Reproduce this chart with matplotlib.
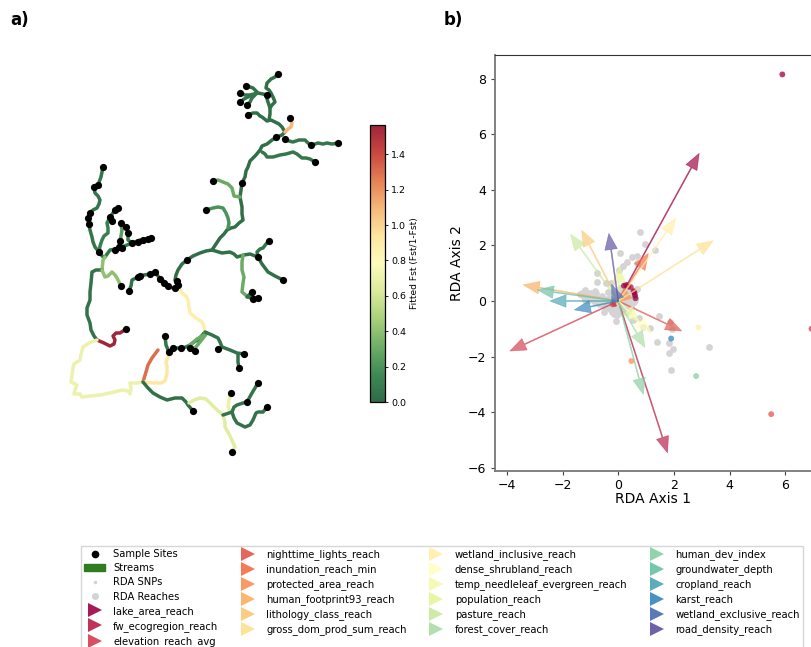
import matplotlib
matplotlib.use("Agg")
import matplotlib.pyplot as plt
from matplotlib.lines import Line2D
from matplotlib.patches import Patch
from matplotlib.cm import ScalarMappable
from matplotlib.colors import Normalize, LinearSegmentedColormap

W, H = 811, 647

# --- map: river reaches (fitted Fst, path in map units)
streams = [
 (0.03, [(278,74),(275,77),(271,79),(267,83),(266,88),(269,90),(271,93),(273,97),(275,102),(272,105),(270,108),(270,114),(269,120)]),
 (0.03, [(246,86),(250,87),(253,88),(256,91),(258,93),(263,94),(267,95),(267,99),(268,102),(270,108)]),
 (0.05, [(240,93),(245,95),(250,95),(258,93)]),
 (0.05, [(240,102),(244,99),(248,97),(255,94)]),
 (0.05, [(247,105),(250,102),(252,98),(256,94)]),
 (0.02, [(248,115),(253,113),(257,113),(260,116),(262,117),(267,121),(271,120),(275,122),(279,124),(282,127),(285,132),(282,135),(277,137),(272,140),(267,144),(262,146),(260,150),(256,155),(253,158),(250,161),(248,167),(246,171),(245,177),(242,183),(241,190),(240,197),(241,202),(242,207),(242,214),(243,220),(239,223),(235,227),(231,228),(227,230),(224,234),(220,238),(216,244),(212,250),(206,251),(200,253),(193,256),(187,260),(182,264),(178,270),(176,275),(175,280),(177,285)]),
 (1.1, [(290,118),(292,123),(291,127),(288,129),(285,132)]),
 (0.05, [(285,139),(289,141),(293,142),(299,140),(305,140),(308,143),(311,145),(315,144),(318,143),(323,144),(327,143),(332,144),(338,143)]),
 (0.06, [(262,152),(265,154),(267,157),(273,157),(280,155),(286,154),(293,152),(297,154),(302,158),(306,158),(310,159),(315,162)]),
 (0.3, [(213,181),(218,180),(223,182),(228,184),(232,188),(233,192),(234,196),(240,197)]),
 (0.2, [(206,210),(213,208),(218,207),(223,208),(226,213),(228,218),(229,223),(228,228)]),
 (0.03, [(212,250),(222,253),(230,252),(234,254),(237,257),(244,255),(250,254),(258,257),(262,264),(268,272),(275,276),(283,280)]),
 (0.05, [(258,257),(257,252),(260,249),(263,248),(266,244),(269,241)]),
 (0.3, [(243,255),(242,262),(242,270),(244,277),(243,283),(242,292),(248,297),(253,299)]),
 (0.05, [(252,292),(247,297),(258,298)]),
 (0.05, [(103,167),(101,177),(98,185),(94,187),(95,193),(98,196),(100,200),(99,204),(97,208),(93,210),(90,213),(88,218),(89,224),(90,230),(92,237),(93,242),(95,247),(99,252),(103,257)]),
 (0.1, [(118,208),(115,210),(110,217),(107,223),(108,228),(108,233),(104,236),(102,240),(100,246),(99,252)]),
 (0.25, [(121,223),(122,230),(120,242),(119,247)]),
 (0.06, [(105,257),(110,250),(116,249),(122,247),(132,243),(140,240),(146,239),(151,238)]),
 (0.1, [(126,227),(128,233),(128,240),(132,243)]),
 (0.4, [(105,257),(103,260),(102,270)]),
 (0.04, [(102,270),(96,270),(92,272),(91,283),(90,292),(90,300),(87,308),(87,315),(90,323),(91,330),(94,336),(97,340)]),
 (0.4, [(102,270),(105,277),(108,276),(112,272),(115,275),(117,278),(121,286)]),
 (0.03, [(129,291),(131,286),(132,280),(138,277),(144,275),(150,274),(155,272),(158,276),(160,279),(165,282),(168,286),(173,288),(178,285),(177,281)]),
 (1.56, [(97,340),(104,343),(110,346),(114,344),(115,340),(113,336),(116,333),(120,333),(123,331),(126,329)]),
 (0.7, [(97,340),(89,343),(83,347),(81,354),(80,360),(74,364),(73,368),(72,375),(71,382),(77,385),(75,390),(74,394),(80,394),(82,397),(90,396),(100,395),(110,393),(122,390),(128,391),(130,394),(131,389),(130,383),(137,383),(143,382)]),
 (1.3, [(143,382),(146,372),(148,365),(152,358),(155,354),(158,350)]),
 (0.92, [(143,382),(155,383),(161,383),(165,381),(167,373),(167,367),(166,362),(168,357),(169,352)]),
 (0.04, [(165,336),(166,345),(169,352),(173,348),(181,348),(186,347),(190,345),(194,342),(198,340),(205,332)]),
 (0.88, [(178,285),(180,290),(182,293),(186,296),(188,300),(189,307),(190,313),(196,318),(202,322),(204,326),(205,332)]),
 (0.3, [(195,348),(200,342),(207,333)]),
 (0.3, [(190,345),(197,339),(204,335)]),
 (0.04, [(205,332),(212,335),(218,338),(220,342),(222,347),(230,350),(237,353),(244,354)]),
 (0.04, [(238,354),(238,357),(238,362),(239,368)]),
 (0.03, [(143,382),(148,388),(153,393),(160,397),(167,400),(175,398),(182,398),(186,402),(188,405),(193,411)]),
 (0.65, [(189,403),(194,400),(200,398),(206,399),(210,403),(216,409),(223,415),(225,422),(225,427),(230,436),(235,447),(232,452)]),
 (0.7, [(231,393),(229,400),(228,407),(230,411)]),
 (0.05, [(223,415),(232,412),(234,407),(237,405),(243,403),(247,402),(252,393),(258,383)]),
 (0.04, [(232,412),(234,418),(237,423),(245,427),(250,425),(253,420),(256,413),(258,412),(263,412),(267,407)]),
]
site_x = [278,246,240,240,247,267,248,290,276,285,311,338,315,213,242,206,103,98,94,90,88,89,118,115,110,112,121,126,128,120,119,99,115,122,132,138,143,148,151,
          258,269,283,252,253,258,121,129,138,140,150,155,160,164,168,175,177,178,187,126,165,169,173,181,190,195,218,244,239,193,231,232,258,247,267]
site_y = [74,86,93,102,105,95,115,118,137,139,145,143,162,181,183,210,167,185,187,213,218,224,208,210,217,221,223,227,233,241,247,252,250,248,243,242,240,239,238,
          257,241,280,292,299,298,286,291,277,276,274,272,279,283,286,288,281,285,260,329,336,352,348,348,348,351,349,354,368,411,393,452,383,402,407]

# --- RDA panel
reach_x = [.78,.96,1.32,.06,.48,.68,.30,.18,-.76,-.76,.66,.04,-.44,-.28,-1.19,-.84,-1.32,-1.02,-.80,-1.38,-1.14,-.9,-.66,-.36,.66,
           1.47,1.86,1.94,1.38,1.83,1.98,1.82,3.27,1.88,.76,-.08,-.52,-.24,-.06,.3,.54,.9,1.14,
           .1,.2,.3,.4,.5,.45,.35,.2,.1,.3,.5,.1,.2,-.1,-.3,-.4,-.6,.35,.55,0,.15,-.2,
           .05,.15,.25,.35,.45,.55,.6,.05,.15,.25,.35,.45,.55,.25,.35,.45,.15,.25,.35,.05,
           -1.25,-1.1,-1.0,-.9,-.75,-.6,-.5,-.35,-1.2,-1.05,-.85,-.7,-.55,-.4,-.2,-.1,-.7,-.5,-.35,-.15,-.45,-.3,-.15]
reach_y = [2.49,2.05,1.83,1.74,1.57,1.62,1.41,1.27,1.0,.67,1.35,1.12,.64,.66,.40,.37,.28,.28,.28,.25,.10,.04,-.08,.31,.42,
           -.53,-.74,-1.02,-1.49,-1.5,-1.73,-1.87,-1.64,-2.48,-.6,-.72,-.38,-.38,-.5,-.38,-.68,-.92,-.98,
           .3,.4,.3,.2,.1,-.1,-.2,-.1,-.2,0,.3,.1,.2,-.3,-.2,-.1,.1,.45,-.05,-.35,-.3,-.15,
           -.05,.0,.1,.1,.0,.2,.05,.22,.32,.22,.22,.4,.35,-.25,-.05,-.2,-.4,-.4,-.35,.45,
           .15,.2,.15,.12,.1,.18,.08,.12,.05,.02,-.02,.02,-.05,.0,-.2,-.1,-.12,-.18,-.1,.05,-.25,-.3,-.45]

variables = ["lake_area_reach","fw_ecogregion_reach","elevation_reach_avg","nighttime_lights_reach",
             "inundation_reach_min","protected_area_reach","human_footprint93_reach","lithology_class_reach",
             "gross_dom_prod_sum_reach","wetland_inclusive_reach","dense_shrubland_reach",
             "temp_needleleaf_evergreen_reach","population_reach","pasture_reach","forest_cover_reach",
             "human_dev_index","groundwater_depth","cropland_reach","karst_reach","wetland_exclusive_reach","road_density_reach"]
arrow_x = [2.91,1.77,-3.9,2.28,1.08,-0.1,-3.42,-1.32,3.42,2.07,1.2,0.75,0.05,-1.72,0.96,0.9,-2.91,-2.46,-1.58,-0.24,-0.34]
arrow_y = [5.31,-5.46,-1.8,-1.08,1.71,-0.08,0.58,2.55,2.17,2.97,-1.17,-0.75,1.25,2.4,-1.67,-3.36,0.4,0.0,-0.32,0.6,2.43]
snp_var = [0,3,2,5,9,18,15, 0,0,0,0,0,0,0, 1,1,2,9,9]
snp_x = [5.9,5.5,6.95,.47,2.88,1.9,2.8, .2,.28,.36,.58,.6,.62,.55, -.12,.45,-.2,0.02,0.1]
snp_y = [8.15,-4.07,-1.0,-2.16,-.95,-1.35,-2.7, .55,.58,.52,.3,.2,.1,.35, -.1,.5,-.12,-.08,.03]

x_ticks = [-4,-2,0,2,4,6]
y_ticks = [-6,-4,-2,0,2,4,6,8]
cbar_ticks = [0,0.2,0.4,0.6,0.8,1.0,1.2,1.4]
FST_MAX = 1.565
fst_colors = ["#2f6b46","#3f8a55","#6fae66","#a9d07a","#dcea9c","#fdfbbd","#fde6a0","#f5b878","#e58155","#c9483f","#a0243a"]

fig = plt.figure(figsize=(W/100, H/100), dpi=100, facecolor="white")

def px_axes(l, t, r, b, **kw):
    return fig.add_axes([l/W, 1-b/H, (r-l)/W, (b-t)/H], **kw)

# a) map
cmap = LinearSegmentedColormap.from_list("fst", fst_colors)
norm = Normalize(0, FST_MAX)
m = px_axes(0, 0, W, H)
m.set_xlim(0, W); m.set_ylim(H, 0); m.axis("off"); m.patch.set_alpha(0)
for val, path in streams:
    xs, ys = zip(*path)
    m.plot(xs, ys, color=cmap(norm(val)), lw=2.5, solid_capstyle="round", solid_joinstyle="round", zorder=2)
m.scatter(site_x, site_y, s=27, color="black", zorder=3, linewidths=0)

# colorbar
cax = px_axes(370, 125, 385, 402)
cb = fig.colorbar(ScalarMappable(norm=norm, cmap=cmap), cax=cax)
cb.set_ticks(cbar_ticks)
cax.tick_params(labelsize=6.8, length=2.5, width=0.6, pad=2)
cb.set_label("Fitted Fst (Fst/1-Fst)", fontsize=6.6, labelpad=3)
cb.outline.set_linewidth(0.9)

# b) RDA
ax = px_axes(494.5, 55, W, 471)
ax.set_xlim((494.5-618.3)/27.8, (W-618.3)/27.8)
ax.set_ylim((301-471)/27.8, (301-55)/27.8)
spectral = plt.get_cmap("Spectral")
cols = [spectral(i/(len(variables)-1)) for i in range(len(variables))]
ax.scatter(reach_x, reach_y, s=24, color="#d4d4d4", linewidths=0, zorder=2)
ax.scatter(snp_x, snp_y, s=18, color=[cols[i] for i in snp_var], alpha=0.75, linewidths=0, zorder=3)
for name, dx, dy, c in zip(variables, arrow_x, arrow_y, cols):
    ax.arrow(0, 0, dx, dy, color=c, alpha=0.68, width=0.035, head_width=0.45, head_length=0.58,
             length_includes_head=True, linewidth=0.4, zorder=4)
ax.set_xticks(x_ticks); ax.set_yticks(y_ticks)
ax.tick_params(labelsize=9, length=3, width=0.8, color="#444444", pad=3)
ax.set_xlabel("RDA Axis 1", fontsize=10, labelpad=0)
ax.set_ylabel("RDA Axis 2", fontsize=10, labelpad=3)
ax.spines["right"].set_visible(False)
ax.spines["top"].set_linewidth(0.8); ax.spines["top"].set_color("#333333")
for s in ("left","bottom"):
    ax.spines[s].set_linewidth(1.3); ax.spines[s].set_color("#777777")

fig.text(10/W, 1-20/H, "a)", fontsize=12, fontweight="bold", va="center")
fig.text(444/W, 1-20/H, "b)", fontsize=12, fontweight="bold", va="center")

# legend
handles = [Line2D([],[],ls="",marker="o",color="black",ms=4.5,label="Sample Sites"),
           Patch(color="#2e7d1e",label="Streams"),
           Line2D([],[],ls="",marker="o",color="lightgray",ms=1.5,label="RDA SNPs"),
           Line2D([],[],ls="",marker="o",color="lightgray",ms=4,label="RDA Reaches")]
handles += [Line2D([],[],ls="",marker=">",color=c,alpha=0.9,ms=9.5,mew=0,label=n) for n,c in zip(variables,cols)]
leg = fig.legend(handles=handles, ncol=4, loc="upper left", bbox_to_anchor=(81/W, 1-546/H),
                 fontsize=7.2, frameon=True, fancybox=False, edgecolor="#cccccc", borderpad=0.3,
                 labelspacing=0.42, handlelength=2.1, handletextpad=0.8, columnspacing=1.9, borderaxespad=0)
leg.get_frame().set_linewidth(1)

fig.savefig("out.png", dpi=100)
